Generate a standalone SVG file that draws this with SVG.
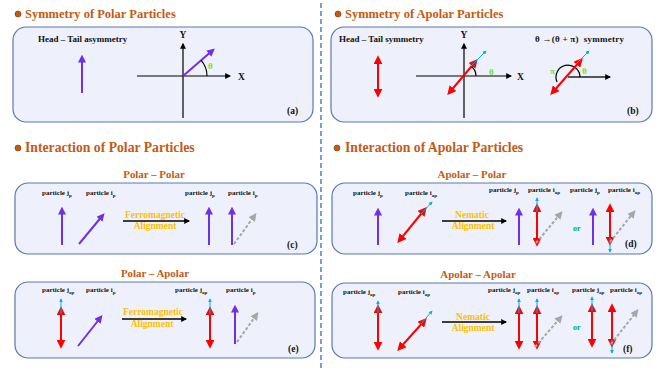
<svg xmlns="http://www.w3.org/2000/svg" width="664" height="374" viewBox="0 0 664 374">
<style>
text{font-family:"Liberation Serif","Times New Roman",serif;font-weight:bold}
.title{fill:#c55a11;font-size:12.5px}
.title2{fill:#c55a11;font-size:13.7px}
.sub{fill:#c55a11;font-size:10.9px;text-anchor:middle}
.box{fill:#eef1fb;stroke:#5b78b0;stroke-width:1.2}
.bul{fill:#c55a11;stroke:#7a3306;stroke-width:0.6}
.lbl{font-size:7px;fill:#111}
.s{font-size:5px}
.hd{font-size:9px;fill:#111}
.tag{font-size:9.5px;fill:#111}
.al{font-size:9.5px;fill:#ffc000;text-anchor:middle}
.or{font-size:8px;fill:#00b050}
.th{font-size:9px;fill:#70e030}
.pu{stroke:#7030e8;stroke-width:2;fill:none;marker-end:url(#mP)}
.rd{stroke:#ff0000;stroke-width:2;fill:none;marker-start:url(#mR);marker-end:url(#mR)}
.cy{stroke:#00b0f0;stroke-width:1;fill:none;marker-end:url(#mC)}
.gy{stroke:#a6a6a6;stroke-width:2;stroke-dasharray:3 2;fill:none;marker-end:url(#mG)}
.bk{stroke:#000;stroke-width:1.3;fill:none;marker-end:url(#mK)}
.ax{stroke:#000;stroke-width:1.2;fill:none}
</style>
<defs>
<marker id="mP" viewBox="0 0 10 10" refX="7" refY="5" markerWidth="8" markerHeight="8" markerUnits="userSpaceOnUse" orient="auto"><path d="M0,0L10,5L0,10z" fill="#7030e8"/></marker>
<marker id="mR" viewBox="0 0 10 10" refX="7" refY="5" markerWidth="9" markerHeight="9" markerUnits="userSpaceOnUse" orient="auto-start-reverse"><path d="M0,0L10,5L0,10z" fill="#ff0000"/></marker>
<marker id="mC" viewBox="0 0 10 10" refX="8" refY="5" markerWidth="4" markerHeight="4" markerUnits="userSpaceOnUse" orient="auto"><path d="M0,0L10,5L0,10z" fill="#00b0f0"/></marker>
<marker id="mG" viewBox="0 0 10 10" refX="7" refY="5" markerWidth="8" markerHeight="8" markerUnits="userSpaceOnUse" orient="auto"><path d="M0,0L10,5L0,10z" fill="#a6a6a6"/></marker>
<marker id="mK" viewBox="0 0 10 10" refX="8" refY="5" markerWidth="6" markerHeight="6" markerUnits="userSpaceOnUse" orient="auto"><path d="M0,0L10,5L0,10z" fill="#000"/></marker>
</defs>
<rect width="664" height="374" fill="#fff"/>
<line x1="321" y1="3" x2="321" y2="368" stroke="#4a7fd0" stroke-width="1.5" stroke-dasharray="5 3"/>

<g id="title-sym-polar"><circle class="bul" cx="18" cy="14" r="3"/><text class="title" x="25" y="18">Symmetry of Polar Particles</text></g>
<g id="title-sym-apolar"><circle class="bul" cx="338" cy="14" r="3"/><text class="title" x="345" y="18">Symmetry of Apolar Particles</text></g>
<g id="title-int-polar"><circle class="bul" cx="18" cy="148" r="3"/><text class="title2" x="25" y="152">Interaction of Polar Particles</text></g>
<g id="title-int-apolar"><circle class="bul" cx="337" cy="148" r="3"/><text class="title2" x="345" y="152">Interaction of Apolar Particles</text></g>

<g id="panel-a">
<rect class="box" x="13" y="27" width="300" height="95" rx="13"/>
<text class="hd" x="38" y="42">Head – Tail asymmetry</text>
<line class="pu" x1="82" y1="93" x2="82" y2="57"/>
<line class="ax" x1="183" y1="118" x2="183" y2="44" marker-end="url(#mK)"/>
<line class="ax" x1="137" y1="76" x2="230" y2="76" marker-end="url(#mK)"/>
<text class="tag" x="183" y="38" text-anchor="middle">Y</text>
<text class="tag" x="238" y="80">X</text>
<line class="pu" x1="183" y1="76" x2="213" y2="50"/>
<path d="M207,76A24,24 0 0 0 201,60.2" class="ax" stroke-width="0.8" stroke="#333"/>
<text class="th" x="208" y="69">θ</text>
<text class="tag" x="287" y="114">(a)</text>
</g>

<g id="panel-b">
<rect class="box" x="331" y="27" width="321" height="95" rx="13"/>
<text class="hd" x="339" y="42">Head – Tail symmetry</text>
<line class="rd" x1="378" y1="58" x2="378" y2="95"/>
<line class="ax" x1="464" y1="118" x2="464" y2="44" marker-end="url(#mK)"/>
<line class="ax" x1="416" y1="76" x2="511" y2="76" marker-end="url(#mK)"/>
<text class="tag" x="464" y="38" text-anchor="middle">Y</text>
<text class="tag" x="517" y="80">X</text>
<line class="rd" x1="449" y1="93" x2="476" y2="61"/>
<line class="cy" x1="471" y1="66" x2="486" y2="51"/>
<path d="M476,76A12,12 0 0 0 471.7,66.8" class="ax" stroke-width="0.8" stroke="#333"/>
<text class="th" x="489" y="75">θ</text>
<text class="hd" x="535" y="42" xml:space="preserve" textLength="89" lengthAdjust="spacing">θ →(θ + π)  symmetry</text>
<line x1="568" y1="77" x2="610" y2="77" stroke="#222" stroke-width="1.6" marker-end="url(#mK)"/>
<path d="M580,77A12,12 0 1 0 557.1,82.1" class="ax" stroke-width="0.8" stroke="#444"/>
<line class="rd" x1="552" y1="93" x2="581" y2="60"/>
<line class="cy" x1="576" y1="64" x2="589" y2="51"/>
<text class="th" x="550" y="74">π</text>
<text class="th" x="582" y="74">θ</text>
<text class="tag" x="627" y="114">(b)</text>
</g>

<g id="panel-c">
<text class="sub" x="154" y="178">Polar – Polar</text>
<rect class="box" x="15" y="183" width="302" height="71" rx="13"/>
<text class="lbl" x="42" y="195">particle j<tspan class="s" dy="1.5">p</tspan></text>
<text class="lbl" x="86" y="195">particle i<tspan class="s" dy="1.5">p</tspan></text>
<text class="lbl" x="185" y="195">particle j<tspan class="s" dy="1.5">p</tspan></text>
<text class="lbl" x="228" y="195">particle i<tspan class="s" dy="1.5">p</tspan></text>
<line class="pu" x1="62" y1="245" x2="62" y2="209"/>
<line class="pu" x1="79" y1="244" x2="103" y2="215"/>
<line class="pu" x1="209" y1="245" x2="209" y2="209"/>
<line class="pu" x1="232" y1="245" x2="232" y2="209"/>
<line class="gy" x1="234" y1="244" x2="255" y2="215"/>
<text class="tag" x="287" y="248">(c)</text>
</g>

<g id="panel-d">
<text class="sub" x="472" y="178">Apolar – Polar</text>
<rect class="box" x="332" y="183" width="320" height="71" rx="13"/>
<text class="lbl" x="353" y="195">particle j<tspan class="s" dy="1.5">p</tspan></text>
<text class="lbl" x="405" y="195">particle i<tspan class="s" dy="1.5">ap</tspan></text>
<text class="lbl" x="489" y="192">particle j<tspan class="s" dy="1.5">p</tspan></text>
<text class="lbl" x="528" y="192">particle i<tspan class="s" dy="1.5">ap</tspan></text>
<text class="lbl" x="570" y="192">particle j<tspan class="s" dy="1.5">p</tspan></text>
<text class="lbl" x="608" y="192">particle i<tspan class="s" dy="1.5">ap</tspan></text>
<line class="pu" x1="378" y1="245" x2="378" y2="210"/>
<line class="rd" x1="399" y1="241" x2="425" y2="209"/>
<line class="cy" x1="421" y1="214" x2="432" y2="202"/>
<line class="pu" x1="519" y1="245" x2="519" y2="210"/>
<line class="rd" x1="537" y1="206" x2="537" y2="244"/>
<line class="cy" x1="537" y1="212" x2="537" y2="198"/>
<line class="gy" x1="536" y1="243" x2="561" y2="213"/>
<text class="or" x="573" y="231">or</text>
<line class="pu" x1="593" y1="245" x2="593" y2="210"/>
<line class="rd" x1="610" y1="206" x2="610" y2="243"/>
<line class="cy" x1="610" y1="238" x2="610" y2="252"/>
<line class="gy" x1="610" y1="242" x2="634" y2="212"/>
<text class="tag" x="625" y="247">(d)</text>
</g>

<g id="panel-e">
<text class="sub" x="155" y="277">Polar – Apolar</text>
<rect class="box" x="15" y="282" width="300" height="76" rx="13"/>
<text class="lbl" x="42" y="292">particle j<tspan class="s" dy="1.5">ap</tspan></text>
<text class="lbl" x="86" y="292">particle i<tspan class="s" dy="1.5">p</tspan></text>
<text class="lbl" x="175" y="292">particle j<tspan class="s" dy="1.5">ap</tspan></text>
<text class="lbl" x="226" y="292">particle i<tspan class="s" dy="1.5">p</tspan></text>
<line class="rd" x1="61" y1="309" x2="61" y2="346"/>
<line class="cy" x1="61" y1="314" x2="61" y2="299"/>
<line class="pu" x1="78" y1="346" x2="101" y2="317"/>
<line class="rd" x1="210" y1="309" x2="210" y2="346"/>
<line class="cy" x1="210" y1="314" x2="210" y2="299"/>
<line class="pu" x1="235" y1="344" x2="235" y2="307"/>
<line class="gy" x1="237" y1="342" x2="257" y2="314"/>
<text class="tag" x="288" y="352">(e)</text>
</g>

<g id="panel-f">
<text class="sub" x="478" y="278">Apolar – Apolar</text>
<rect class="box" x="332" y="283" width="320" height="75" rx="13"/>
<text class="lbl" x="343" y="294">particle j<tspan class="s" dy="1.5">ap</tspan></text>
<text class="lbl" x="398" y="294">particle i<tspan class="s" dy="1.5">ap</tspan></text>
<text class="lbl" x="488" y="292">particle j<tspan class="s" dy="1.5">ap</tspan></text>
<text class="lbl" x="527" y="292">particle i<tspan class="s" dy="1.5">ap</tspan></text>
<text class="lbl" x="572" y="292">particle j<tspan class="s" dy="1.5">ap</tspan></text>
<text class="lbl" x="610" y="292">particle i<tspan class="s" dy="1.5">ap</tspan></text>
<line class="rd" x1="378" y1="307" x2="378" y2="348"/>
<line class="cy" x1="378" y1="313" x2="378" y2="301"/>
<line class="rd" x1="399" y1="349" x2="425" y2="320"/>
<line class="cy" x1="421" y1="324" x2="432" y2="311"/>
<line class="rd" x1="519" y1="308" x2="519" y2="347"/>
<line class="cy" x1="519" y1="313" x2="519" y2="299"/>
<line class="rd" x1="537" y1="308" x2="537" y2="347"/>
<line class="cy" x1="537" y1="313" x2="537" y2="299"/>
<line class="gy" x1="535" y1="347" x2="561" y2="317"/>
<text class="or" x="573" y="330">or</text>
<line class="rd" x1="592" y1="306" x2="592" y2="345"/>
<line class="cy" x1="592" y1="311" x2="592" y2="297"/>
<line class="rd" x1="612" y1="306" x2="612" y2="345"/>
<line class="cy" x1="612" y1="340" x2="612" y2="353"/>
<line class="gy" x1="611" y1="344" x2="637" y2="311"/>
<text class="tag" x="623" y="352">(f)</text>
</g>

<g id="connectors">
<line class="bk" x1="123" y1="221" x2="189" y2="221"/>
<text class="al" x="155" y="218">Ferromagnetic</text>
<text class="al" x="155" y="229">Alignment</text>
<line class="bk" x1="442" y1="221" x2="506" y2="221"/>
<text class="al" x="472" y="218">Nematic</text>
<text class="al" x="473" y="229">Alignment</text>
<line class="bk" x1="122" y1="319" x2="186" y2="319"/>
<text class="al" x="153" y="315">Ferromagnetic</text>
<text class="al" x="152" y="327">Alignment</text>
<line class="bk" x1="442" y1="322" x2="506" y2="322"/>
<text class="al" x="473" y="320">Nematic</text>
<text class="al" x="473" y="331">Alignment</text>
</g>
</svg>
